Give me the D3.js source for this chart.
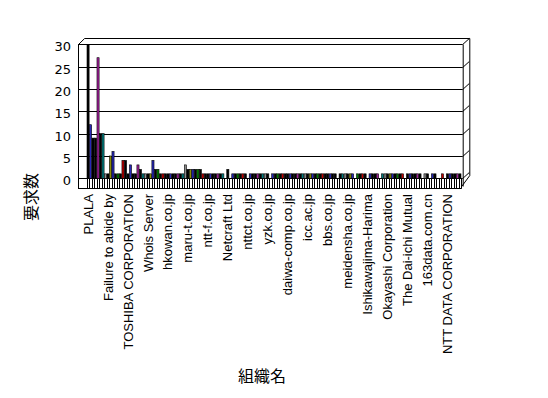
<!DOCTYPE html>
<html>
<head>
<meta charset="utf-8">
<script src="https://cdn.jsdelivr.net/npm/d3@7"></script>
<style>
  body { margin: 0; background: #fff; }
  text { font-family: "Liberation Sans", "Noto Sans CJK JP", sans-serif; fill: #000; }
</style>
</head>
<body>
<svg id="chart" width="548" height="398"></svg>
<script>
// 要求数 per organisation (150 organisations, one label every 8th)
var values = [
  30, 12, 9, 9, 27, 10, 10, 1, 1, 5, 6, 1, 1, 1, 4, 4, 1, 3, 1, 1,
  3, 2, 1, 1, 1, 1, 4, 2, 2, 1, 1, 1, 1, 1, 1, 1, 1, 1, 1, 3,
  2, 2, 2, 2, 2, 2, 1, 1, 1, 1, 1, 1, 1, 1, 1, 0, 2, 0, 1, 1,
  1, 1, 1, 1, 0, 1, 1, 1, 1, 1, 1, 1, 1, 0, 1, 1, 1, 1, 1, 1,
  1, 1, 1, 1, 1, 1, 1, 1, 1, 1, 1, 1, 1, 1, 1, 1, 1, 1, 1, 1,
  0, 1, 1, 1, 1, 1, 1, 0, 1, 1, 1, 1, 0, 1, 1, 1, 1, 0, 1, 1,
  1, 1, 1, 1, 1, 1, 1, 0, 1, 1, 1, 1, 1, 1, 0, 1, 1, 0, 1, 1,
  0, 0, 1, 0, 1, 1, 1, 1, 1, 1
];
var labelStep = 8;
var labels = [
  "PLALA", "Failure to abide by", "TOSHIBA CORPORATION", "Whois Server",
  "hkowan.co.jp", "maru-t.co.jp", "ntt-f.co.jp", "Netcraft Ltd",
  "nttct.co.jp", "yzk.co.jp", "daiwa-comp.co.jp", "icc.ac.jp",
  "bbs.co.jp", "meidensha.co.jp", "Ishikawajima-Harima",
  "Okayashi Corporation", "The Dai-ichi Mutual", "163data.com.cn",
  "NTT DATA CORPORATION"
];
var yTicks = [0, 5, 10, 15, 20, 25, 30];

var palette = ["#000000", "#2828b8", "#000000", "#000000", "#a0209a", "#000000",
  "#008080", "#8c8c8c", "#000000", "#8c8c00", "#2828b8", "#000000",
  "#008000", "#000000", "#c00000", "#000000"];

var svg = d3.select("#chart");

// front plane of the box and the depth offset of the back edge
var wallLeft = 78, wallRight = 462.7, depthX = 6.6, depthY = 6;
var floorDepth = 10;

var x = d3.scaleBand()
    .domain(d3.range(values.length))
    .range([87, 461])
    .paddingInner(0.15);

var y = d3.scaleLinear()
    .domain([0, 30])
    .range([178.3, 44.3]);

var frame = svg.append("g")
    .attr("fill", "none")
    .attr("stroke", "#000")
    .attr("stroke-width", 1);

// gridlines with the short diagonal to the back edge
yTicks.forEach(function(v) {
  var yy = Math.round(y(v)) + 0.5;
  frame.append("path")
    .attr("d", "M" + wallLeft + "," + yy + "H" + wallRight
      + "L" + (wallRight + depthX) + "," + (yy - depthY));
});

// outline of the box
var yTop = Math.round(y(30)) + 0.5, yBase = Math.round(y(0)) + 0.5;
frame.append("path")
  .attr("d", "M" + (wallLeft + 0.5) + "," + (yBase + floorDepth)
    + "V" + yTop
    + "L" + (wallLeft + depthX) + "," + (yTop - depthY)
    + "H" + (wallRight + depthX + 0.5)
    + "V" + (yBase - 3)
    + "L" + (wallRight - 1) + "," + (yBase + floorDepth - 2));
frame.append("path")
  .attr("d", "M" + (wallRight + 0.5) + "," + yTop + "V" + (yBase + floorDepth - 2));
frame.append("path")
  .attr("d", "M" + wallLeft + "," + (yBase + floorDepth) + "H" + (wallRight - 1));

// floor ticks between categories
var bounds = d3.range(values.length + 1).map(function(i) {
  return 87 + i * x.step();
});
frame.selectAll(".tick-floor")
  .data(bounds)
  .enter().append("line")
    .attr("class", "tick-floor")
    .attr("x1", function(d) { return Math.round(d) + 0.5; })
    .attr("x2", function(d) { return Math.round(d) + 0.5; })
    .attr("y1", yBase)
    .attr("y2", yBase + floorDepth);

// bars
svg.append("g").selectAll("rect")
  .data(values)
  .enter().append("rect")
    .attr("x", function(d, i) { return x(i); })
    .attr("y", function(d) { return y(d); })
    .attr("width", x.bandwidth())
    .attr("height", function(d) { return y(0) - y(d); })
    .attr("fill", function(d, i) { return palette[i % palette.length]; })
    .attr("stroke", "#000")
    .attr("stroke-width", 0.6);

// y axis labels
var yAxis = d3.axisLeft(y).tickValues(yTicks).tickSize(0).tickPadding(7);
var ya = svg.append("g")
    .attr("transform", "translate(" + wallLeft + ",2.5)")
    .call(yAxis);
ya.select(".domain").remove();
ya.selectAll("text")
    .style("font-family", "'DejaVu Sans', sans-serif")
    .style("font-size", "13px");

// category labels, every 8th organisation
svg.append("g").selectAll("text")
  .data(labels)
  .enter().append("text")
    .attr("transform", function(d, i) {
      var cx = x(i * labelStep) + x.bandwidth() / 2;
      return "translate(" + cx + ",194) rotate(-90)";
    })
    .attr("dy", "0.35em")
    .attr("text-anchor", "end")
    .style("font-size", "13px")
    .text(function(d) { return d; });

// axis titles
svg.append("text")
    .attr("transform", "translate(31,197) rotate(-90)")
    .attr("dy", "0.35em")
    .attr("text-anchor", "middle")
    .style("font-size", "16px")
    .text("要求数");

svg.append("text")
    .attr("x", 262)
    .attr("y", 376)
    .attr("dy", "0.35em")
    .attr("text-anchor", "middle")
    .style("font-size", "16px")
    .text("組織名");
</script>
</body>
</html>
